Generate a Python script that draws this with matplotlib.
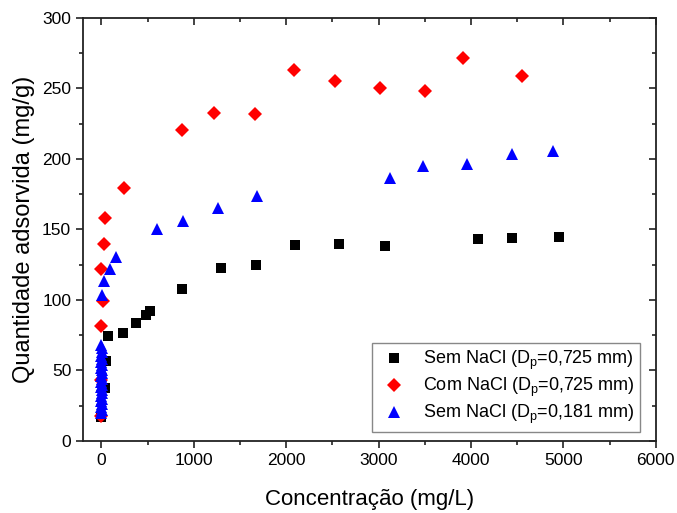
import matplotlib
matplotlib.use('Agg')
import matplotlib.pyplot as plt
from matplotlib.ticker import MultipleLocator

plt.rcParams['font.family'] = ['Liberation Sans', 'DejaVu Sans']
plt.rcParams['mathtext.fontset'] = 'custom'
plt.rcParams['mathtext.rm'] = 'Liberation Sans'

# Sem NaCl, Dp = 0,725 mm
x_sem = [0, 36, 54, 72, 228, 372, 484, 524, 875, 1290, 1668, 2100, 2568, 3069, 4080, 4445, 4951]
y_sem = [17, 37.5, 57, 74.5, 76.5, 84, 89.5, 92, 108, 122.5, 124.5, 139.3, 139.8, 138.6, 142.9, 144.2, 144.5]

# Com NaCl, Dp = 0,725 mm
x_com = [0, 0, 0, 18, 0, 25, 43, 245, 877, 1220, 1661, 2080, 2528, 3015, 3497, 3911, 4550]
y_com = [18, 43.4, 81.7, 99.5, 122, 139.8, 157.8, 179.3, 220.3, 232.8, 232.2, 263, 255, 250.3, 248.3, 271.5, 258.8]

# Sem NaCl, Dp = 0,181 mm
x_fino = [0, 2, 0, 3, 0, 2, 0, 4, 1, 0, 3, 0, 2, 0, 5, 1, 0, 3, 0, 2, 0, 4, 1, 0,
          7, 25, 90, 155, 600, 884, 1257, 1686, 3123, 3478, 3961, 4449, 4893]
y_fino = [20, 22, 24, 26, 28, 30, 32, 34, 36, 38, 40, 42, 44, 46, 48, 50, 52, 54, 56, 58, 60, 63, 66, 68,
          103.5, 113.8, 122.2, 130.3, 150.4, 156.2, 165.3, 174, 186.7, 195, 196.5, 203.2, 206]

fig = plt.figure(figsize=(6.77, 5.13), dpi=100)
ax = fig.add_axes([0.1226, 0.1404, 0.8460, 0.8246])

ax.plot(x_sem, y_sem, linestyle='None', marker='s', color='black', markersize=6.5,
        markeredgewidth=0, label='Sem NaCl (D$_\\mathrm{p}$=0,725 mm)')
ax.plot(x_com, y_com, linestyle='None', marker='D', color='#ff0000', markersize=7,
        markeredgewidth=0, label='Com NaCl (D$_\\mathrm{p}$=0,725 mm)')
ax.plot(x_fino, y_fino, linestyle='None', marker='^', color='#0000ff', markersize=8.5,
        markeredgewidth=0, label='Sem NaCl (D$_\\mathrm{p}$=0,181 mm)')

ax.set_xlim(-200, 6000)
ax.set_ylim(0, 300)
ax.xaxis.set_major_locator(MultipleLocator(1000))
ax.xaxis.set_minor_locator(MultipleLocator(500))
ax.yaxis.set_major_locator(MultipleLocator(50))
ax.yaxis.set_minor_locator(MultipleLocator(25))

ax.tick_params(which='both', bottom=True, left=True, top=False, right=False, direction='out',
               labelsize=12.5, width=1.2, color='#222222')
ax.tick_params(which='major', length=5)
ax.tick_params(which='minor', length=3)

# inward mirror ticks on the top and right spines
sec_x = ax.secondary_xaxis('top')
sec_x.xaxis.set_major_locator(MultipleLocator(1000))
sec_x.xaxis.set_minor_locator(MultipleLocator(500))
sec_x.tick_params(which='both', direction='in', labeltop=False, width=1.2, color='#222222')
sec_x.tick_params(which='major', length=5)
sec_x.tick_params(which='minor', length=3)
sec_y = ax.secondary_yaxis('right')
sec_y.yaxis.set_major_locator(MultipleLocator(50))
sec_y.yaxis.set_minor_locator(MultipleLocator(25))
sec_y.tick_params(which='both', direction='in', labelright=False, width=1.2, color='#222222')
sec_y.tick_params(which='major', length=5)
sec_y.tick_params(which='minor', length=3)
sec_x.spines['top'].set_visible(False)
sec_y.spines['right'].set_visible(False)

for s in ax.spines.values():
    s.set_linewidth(1.3)
    s.set_color('#222222')

ax.set_xlabel('Concentração (mg/L)', fontsize=16, labelpad=15)
ax.set_ylabel('Quantidade adsorvida (mg/g)', fontsize=17, labelpad=5)

leg = ax.legend(loc='lower right', bbox_to_anchor=(0.9726, 0.022), borderaxespad=0,
                fontsize=13, frameon=True, fancybox=False, edgecolor='#888888', framealpha=1,
                handletextpad=0.7, borderpad=0.3, labelspacing=0.22, handlelength=1.8)
leg.get_frame().set_linewidth(1.0)

fig.savefig('out.png', dpi=100)
